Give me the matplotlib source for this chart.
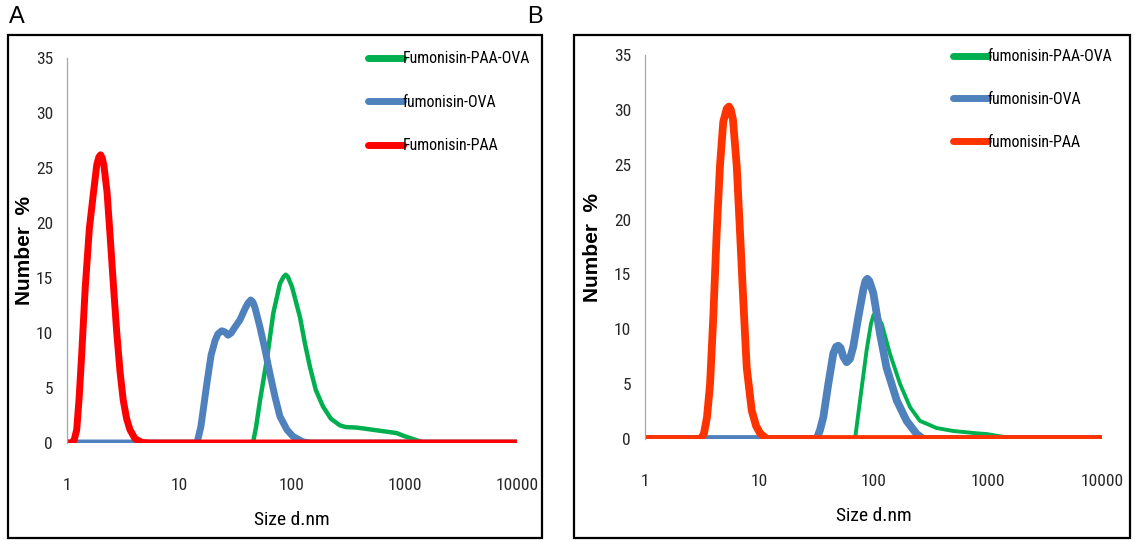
import matplotlib
matplotlib.use("Agg")
import matplotlib.pyplot as plt
from matplotlib import font_manager
from matplotlib.font_manager import FontProperties
from matplotlib.patches import Rectangle

# ---------------- data ----------------
# Panel A
a_paa_size = [1.0, 1.10, 1.16, 1.22, 1.28, 1.35, 1.45, 1.58, 1.73, 1.84, 1.92, 1.99, 2.06, 2.13,
              2.27, 2.41, 2.58, 2.77, 2.96, 3.16, 3.39, 3.63, 4.02, 4.64, 5.47, 10000]
a_paa_num = [0, 0, 0.3, 1.2, 4, 8, 14, 19.5, 23, 25.3, 26.0, 26.2, 25.9, 25.2,
             22.8, 19, 14.5, 10, 6.5, 3.9, 2.2, 1.2, 0.4, 0.05, 0, 0]

a_ova_size = [1, 14.3, 15.5, 17.5, 19.1, 20.7, 21.9, 23.7, 25.3, 27.0, 28.8, 30.5, 34.5, 38.2,
              40.5, 43, 45, 46.9, 52, 57.5, 63.7, 70.6, 78.2, 90.3, 102, 125, 144, 10000]
a_ova_num = [0, 0, 1.5, 5.4, 8, 9.3, 9.9, 10.2, 10.1, 9.8, 10.0, 10.4, 11.2, 12.2,
             12.7, 13.0, 12.8, 12.3, 10.5, 8.5, 6.3, 4.2, 2.4, 1.2, 0.6, 0.1, 0, 0]

a_paaova_size = [1, 45, 48, 52, 59.6, 68.2, 78.2, 84, 88, 92, 100, 118, 130.6, 144.5, 163, 189,
                 222, 267, 300, 376, 525, 671, 852, 1010, 1283, 1515, 10000]
a_paaova_num = [0, 0, 1.5, 3.9, 7.5, 11.8, 14.5, 15.1, 15.3, 15.1, 14.2, 11.4, 9, 6.9, 4.8, 3.3,
                2.2, 1.6, 1.45, 1.4, 1.2, 1.05, 0.9, 0.6, 0.25, 0, 0]

# Panel B
b_paa_size = [1, 3.03, 3.15, 3.28, 3.49, 3.71, 3.96, 4.24, 4.53, 4.84, 5.19, 5.43, 5.64, 5.89,
              6.35, 6.79, 7.25, 7.77, 8.59, 9.37, 10.2, 11.7, 10000]
b_paa_num = [0, 0, 0.15, 0.5, 2, 5, 11.1, 18.8, 24.9, 28.9, 30.1, 30.3, 30.0, 29.1,
             24.9, 18.8, 12.6, 6.5, 2.6, 1.2, 0.5, 0, 0]

b_ova_size = [1, 31.8, 34.0, 36.4, 40.2, 44.5, 47, 49.2, 51.5, 54.4, 58.2, 62.2, 66.5, 73.6,
              81.4, 85, 88.3, 92, 99.6, 114, 130, 160, 195, 239, 273, 10000]
b_ova_num = [0, 0, 0.8, 2.0, 5.0, 7.8, 8.4, 8.5, 8.3, 7.5, 7.0, 7.3, 8.4, 11.1,
             13.6, 14.4, 14.6, 14.4, 13.3, 9.6, 6.5, 3.5, 1.65, 0.45, 0, 0]

b_paaova_size = [1, 68.9, 76.2, 87.1, 95, 100, 103, 108, 118, 139, 171, 209, 255, 357, 500, 800,
                 979, 1361, 1567, 10000]
b_paaova_num = [0, 0, 3.5, 8.1, 10.5, 11.3, 11.4, 11.2, 10.5, 7.8, 5.0, 2.9, 1.65, 1.0, 0.73, 0.52,
                0.45, 0.2, 0, 0]

a_labels = ["Fumonisin-PAA-OVA", "fumonisin-OVA", "Fumonisin-PAA"]
b_labels = ["fumonisin-PAA-OVA", "fumonisin-OVA", "fumonisin-PAA"]
x_ticks = [1, 10, 100, 1000, 10000]
x_ticklabels = ["1", "10", "100", "1000", "10000"]
y_ticks = [0, 5, 10, 15, 20, 25, 30, 35]

# ---------------- fonts ----------------
def find_narrow():
    prefs = ["liberation sans narrow", "liberationsansnarrow", "roboto condensed",
             "robotocondensed", "noto sans condensed", "notosans-condensed",
             "open sans condensed", "opensans-condensed", "opensanscondensed",
             "dejavu sans condensed", "dejavusanscondensed"]
    found = []
    for f in font_manager.fontManager.ttflist:
        key = (f.name + " " + f.fname.split("/")[-1]).lower()
        if f.style != "normal":
            continue
        if f.weight not in (400, "normal", "regular", "book"):
            continue
        if "bold" in key or "italic" in key or "light" in key or "medium" in key \
                or "semi" in key or "extra" in key or "thin" in key or "black" in key:
            continue
        if "narrow" in key or "condensed" in key:
            found.append((key, f.fname, f.name))
    for p in prefs:
        for key, fname, name in found:
            if p in key:
                return fname, name
    if found:
        return found[0][1], found[0][2]
    return None, None

NARROW_FILE, NARROW_NAME = find_narrow()
HAVE_NARROW = NARROW_FILE is not None

def nprop(size):
    if HAVE_NARROW:
        return FontProperties(fname=NARROW_FILE, size=size)
    return FontProperties(family=["Liberation Sans", "DejaVu Sans"], size=size * 0.85)

REG = ["Liberation Sans", "DejaVu Sans"]

GREEN = "#00B050"
BLUE = "#4F81BD"
RED_A = "#FF0000"
RED_B = "#FF3300"

W, H = 1134, 540
fig = plt.figure(figsize=(W / 100, H / 100), dpi=100)

def fx(px):
    return px / W

def fy(py):
    return 1 - py / H

# panel frames
for (x0, x1) in [(8, 542), (574, 1130)]:
    fig.patches.append(Rectangle((fx(x0), fy(538)), fx(x1 - x0), (538 - 35) / H,
                                 transform=fig.transFigure, fill=False,
                                 edgecolor="black", linewidth=1.6))

fig.text(fx(9), fy(17), "A", fontsize=17, family=REG, ha="left", va="center")
fig.text(fx(527), fy(17), "B", fontsize=17, family=REG, ha="left", va="center")

def setup(ax, ylabel_x):
    ax.set_xscale("log")
    ax.set_xlim(1, 10000)
    ax.set_ylim(0, 35)
    ax.set_xticks(x_ticks)
    ax.set_xticklabels(x_ticklabels)
    ax.xaxis.set_minor_locator(matplotlib.ticker.NullLocator())
    ax.set_yticks(y_ticks)
    ax.tick_params(length=0, colors="#262626")
    ax.tick_params(axis="y", pad=10)
    ax.tick_params(axis="x", pad=25)
    for lab in ax.get_xticklabels() + ax.get_yticklabels():
        lab.set_fontproperties(nprop(12.5))
    for s in ["top", "right", "bottom"]:
        ax.spines[s].set_visible(False)
    ax.spines["left"].set_color("#A6A6A6")
    ax.spines["left"].set_linewidth(0.9)
    ax.set_xlabel("Size d.nm", fontproperties=nprop(14), labelpad=13)
    ax.set_ylabel("Number  %", fontsize=15, family=REG, fontweight="bold")
    ax.yaxis.set_label_coords(ylabel_x, 0.5)
    ax.patch.set_alpha(0)

kw = dict(solid_capstyle="round", solid_joinstyle="round")

# Panel A
axA = fig.add_axes([fx(67), fy(443), fx(517 - 67), (443 - 58) / H])
axA.plot(a_paaova_size, a_paaova_num, color=GREEN, lw=3.2, label=a_labels[0], **kw)
axA.plot(a_ova_size, a_ova_num, color=BLUE, lw=5.0, label=a_labels[1], **kw)
axA.plot(a_paa_size, a_paa_num, color=RED_A, lw=5.0, label=a_labels[2], **kw)
setup(axA, -0.074)
legA = axA.legend(loc="upper left", bbox_to_anchor=((368 - 67) / 450, 1.017), frameon=False,
                  prop=nprop(11.4), handlelength=2.2,
                  handletextpad=0.0, labelspacing=1.8, borderaxespad=0, borderpad=0)
for h in legA.get_lines():
    h.set_linewidth(5)

# Panel B
axB = fig.add_axes([fx(645), fy(439), fx(1102 - 645), (439 - 55) / H])
axB.plot(b_paaova_size, b_paaova_num, color=GREEN, lw=2.8, label=b_labels[0], **kw)
axB.plot(b_ova_size, b_ova_num, color=BLUE, lw=5.6, label=b_labels[1], **kw)
axB.plot(b_paa_size, b_paa_num, color=RED_B, lw=5.6, label=b_labels[2], **kw)
setup(axB, -0.094)
legB = axB.legend(loc="upper left", bbox_to_anchor=((953 - 645) / 457, 1.015), frameon=False,
                  prop=nprop(11.4), handlelength=2.2,
                  handletextpad=0.0, labelspacing=1.75, borderaxespad=0, borderpad=0)
for h in legB.get_lines():
    h.set_linewidth(5)

fig.savefig("out.png", dpi=100)
